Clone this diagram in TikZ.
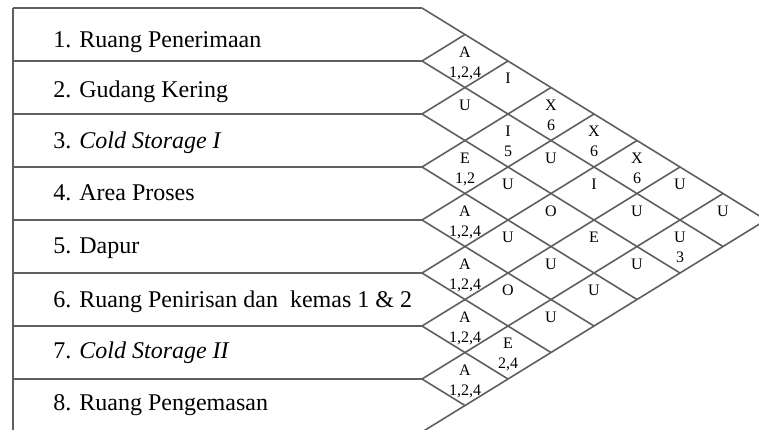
\documentclass[tikz,border=0pt]{standalone}
\usepackage{fontspec}
\setmainfont{Liberation Serif}
\definecolor{chartgray}{RGB}{95,95,95}
\begin{document}
\begin{tikzpicture}[x=0.5pt,y=-0.5pt,
  grid/.style={draw=chartgray,line width=0.8pt},
  roomlabel/.style={anchor=base west,inner sep=0pt,font=\fontsize{12}{14}\selectfont},
  relcode/.style={anchor=base,inner sep=0pt,font=\fontsize{8}{9}\selectfont},
]
% canvas: 759 x 429 units, origin top-left, y pointing down
\useasboundingbox (0,0) rectangle (759,429);
\clip (0,0) rectangle (759,429);

% row bands of the room list
\foreach \k in {0,...,8}
  \draw[grid] (13,{8+53*\k}) -- (422,{8+53*\k});
\draw[grid] (13,8) -- (13,440);

% diamond lattice of the relationship chart
\foreach \k in {0,...,7}
  \draw[grid] (422,{8+53*\k}) -- ++({(8-\k)*43},{(8-\k)*26.5});
\foreach \k in {1,...,8}
  \draw[grid] (422,{8+53*\k}) -- ++({\k*43},{-\k*26.5});

% room names
\foreach \n/\yb/\txt in {
  1/47/{1. Ruang Penerimaan},
  2/97/{2. Gudang Kering},
  3/148/{3. \textit{Cold Storage I}},
  4/200/{4. Area Proses},
  5/253/{5. Dapur},
  6/307/{6. Ruang Penirisan dan~ kemas 1 \& 2},
  7/358/{7. \textit{Cold Storage II}},
  8/410/{8. Ruang Pengemasan}}
  \node[roomlabel] (room\n) at (53,\yb) {\txt};

% relationship codes (cell i-j)
\foreach \i/\j/\a in {
  1/2/A, 1/3/I, 2/3/U, 1/4/X, 2/4/I, 1/5/X, 3/4/E, 2/5/U, 1/6/X,
  3/5/U, 2/6/I, 1/7/U, 4/5/A, 3/6/O, 2/7/U, 1/8/U, 4/6/U, 3/7/E,
  2/8/U, 5/6/A, 4/7/U, 3/8/U, 5/7/O, 4/8/U, 6/7/A, 5/8/U, 6/8/E, 7/8/A}
  \node[relcode] (code\i\j) at ({422+(\j-\i)*43},{8+53*(\i+\j-1)/2-4}) {\a};

% reasons attached to some codes
\foreach \i/\j/\r in {
  1/2/{1,2,4}, 1/4/6, 2/4/5, 1/5/6, 3/4/{1,2}, 1/6/6, 4/5/{1,2,4},
  2/8/3, 5/6/{1,2,4}, 6/7/{1,2,4}, 6/8/{2,4}, 7/8/{1,2,4}}
  \node[relcode] (why\i\j) at ({422+(\j-\i)*43},{8+53*(\i+\j-1)/2+16}) {\r};
\end{tikzpicture}
\end{document}
